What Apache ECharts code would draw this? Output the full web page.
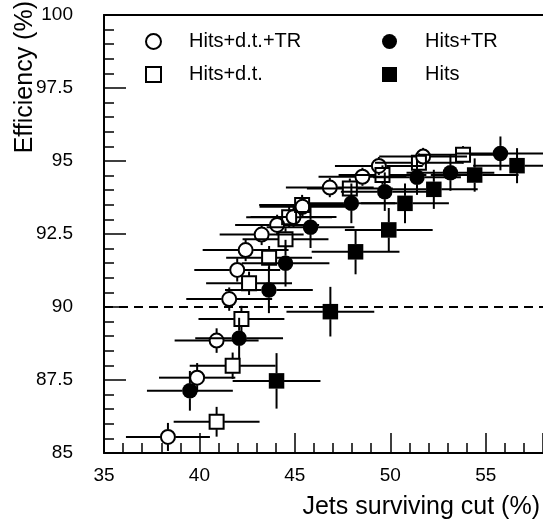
<!DOCTYPE html>
<html><head><meta charset="utf-8">
<script src="https://cdn.jsdelivr.net/npm/echarts@6/dist/echarts.min.js"></script>
<style>html,body{margin:0;padding:0;background:#fff}#c{width:543px;height:525px}</style>
</head><body><div id="c"></div>
<script>
// ---- data ----
const seriesNames = ['Hits+d.t.+TR', 'Hits+d.t.', 'Hits+TR', 'Hits'];
const xTickLabels = [35, 40, 45, 50, 55];
const yTickLabels = [85, 87.5, 90, 92.5, 95, 97.5, 100];
const referenceLine = 90;

// Hits+d.t.+TR (open circles)
const hdtTR_x  = [38.35, 39.88, 40.9, 41.56, 41.98, 42.42, 43.26, 44.07, 44.93, 45.4, 46.83, 48.54, 49.4, 51.72];
const hdtTR_y  = [85.55, 87.58, 88.85, 90.27, 91.27, 91.95, 92.48, 92.81, 93.08, 93.43, 94.09, 94.46, 94.83, 95.15];
const hdtTR_ex = [2.2, 2.0, 2.2, 2.25, 2.25, 2.25, 2.2, 2.2, 2.25, 2.25, 2.3, 2.3, 2.3, 2.3];
const hdtTR_ey = [0.48, 0.5, 0.42, 0.4, 0.4, 0.38, 0.36, 0.35, 0.34, 0.34, 0.33, 0.31, 0.31, 0.3];

// Hits+d.t. (open squares)
const hdt_x  = [40.9, 41.74, 42.2, 42.6, 43.65, 44.51, 44.7, 45.38, 47.88, 49.59, 51.5, 53.81];
const hdt_y  = [86.07, 87.99, 89.59, 90.81, 91.69, 92.32, 93.07, 93.49, 94.06, 94.52, 94.94, 95.21];
const hdt_ex = [2.25, 2.25, 2.25, 2.25, 2.25, 2.25, 2.25, 2.25, 2.25, 2.3, 2.3, 2.3];
const hdt_ey = [0.51, 0.45, 0.45, 0.4, 0.4, 0.38, 0.36, 0.35, 0.34, 0.33, 0.32, 0.3];

// Hits+TR (filled circles)
const hTR_x  = [39.5, 42.08, 43.64, 44.51, 45.82, 47.96, 49.71, 51.4, 53.15, 55.77];
const hTR_y  = [87.13, 88.93, 90.58, 91.5, 92.73, 93.55, 93.95, 94.44, 94.6, 95.26];
const hTR_ex = [2.25, 2.3, 2.3, 2.3, 2.3, 2.3, 2.3, 2.3, 2.3, 2.3];
const hTR_ey = [0.68, 0.7, 0.79, 0.8, 0.71, 0.68, 0.66, 0.6, 0.62, 0.58];

// Hits (filled squares)
const h_x  = [44.04, 46.86, 48.18, 49.92, 50.77, 52.28, 54.42, 56.64];
const h_y  = [87.47, 89.84, 91.89, 92.64, 93.55, 94.03, 94.52, 94.84];
const h_ex = [2.3, 2.3, 2.3, 2.3, 2.3, 2.3, 2.3, 2.3];
const h_ey = [0.95, 0.85, 0.77, 0.75, 0.68, 0.67, 0.57, 0.6];

// ---- build ----
const FONT = 'Liberation Sans, Arial, Helvetica, sans-serif';
function rows(xs, ys, exs, eys) { return xs.map((x, i) => [x, ys[i], exs[i], eys[i]]); }

function errRender(gap) {
  return function (params, api) {
    const x = api.value(0), y = api.value(1), ex = api.value(2), ey = api.value(3);
    const c = api.coord([x, y]);
    const l = api.coord([x - ex, y]), r = api.coord([x + ex, y]);
    const t = api.coord([x, y + ey]), b = api.coord([x, y - ey]);
    const st = { stroke: '#000', lineWidth: 2, fill: null };
    const ch = [];
    if (c[0] - l[0] > gap) ch.push({ type: 'line', shape: { x1: l[0], y1: c[1], x2: c[0] - gap, y2: c[1] }, style: st });
    if (r[0] - c[0] > gap) ch.push({ type: 'line', shape: { x1: c[0] + gap, y1: c[1], x2: r[0], y2: c[1] }, style: st });
    if (c[1] - t[1] > gap) ch.push({ type: 'line', shape: { x1: c[0], y1: t[1], x2: c[0], y2: c[1] - gap }, style: st });
    if (b[1] - c[1] > gap) ch.push({ type: 'line', shape: { x1: c[0], y1: c[1] + gap, x2: c[0], y2: b[1] }, style: st });
    return { type: 'group', children: ch };
  };
}

const defs = [
  { name: seriesNames[0], d: rows(hdtTR_x, hdtTR_y, hdtTR_ex, hdtTR_ey), symbol: 'circle', open: true },
  { name: seriesNames[1], d: rows(hdt_x, hdt_y, hdt_ex, hdt_ey), symbol: 'rect', open: true },
  { name: seriesNames[2], d: rows(hTR_x, hTR_y, hTR_ex, hTR_ey), symbol: 'circle', open: false },
  { name: seriesNames[3], d: rows(h_x, h_y, h_ex, h_ey), symbol: 'rect', open: false }
];

const series = [];
defs.forEach((s, k) => {
  series.push({
    type: 'custom', name: s.name + ' err', renderItem: errRender(7.5),
    data: s.d, encode: { x: 0, y: 1 }, clip: true, silent: true, z: 2 + k * 2
  });
  const sc = {
    type: 'scatter', name: s.name, data: s.d.map(p => [p[0], p[1]]),
    symbol: s.symbol, symbolSize: s.open ? 14 : 15.5, silent: true, z: 3 + k * 2,
    itemStyle: s.open ? { color: 'rgba(255,255,255,0)', borderColor: '#000', borderWidth: 2, opacity: 1 }
                      : { color: '#000', borderWidth: 0, opacity: 1 }
  };
  if (k === 0) {
    sc.markLine = {
      silent: true, symbol: ['none', 'none'], label: { show: false },
      lineStyle: { color: '#000', type: [9, 6], width: 2, opacity: 1 },
      data: [{ yAxis: referenceLine }]
    };
  }
  series.push(sc);
});

const legendPos = [[145, 31.5], [145, 64.5], [382, 31.5], [382, 64.5]];
const legends = seriesNames.map((n, i) => ({
  data: [n], left: legendPos[i][0], top: legendPos[i][1], padding: 0,
  itemWidth: 15, itemHeight: 15, selectedMode: false,
  textStyle: { fontFamily: FONT, fontSize: 20, color: '#000', padding: [0, 0, 0, 23] }
}));

const chart = echarts.init(document.getElementById('c'), null, { renderer: 'canvas' });
chart.setOption({
  animation: false,
  backgroundColor: '#fff',
  grid: { left: 104, right: 0, top: 15, bottom: 72, containLabel: false },
  legend: legends,
  xAxis: [{
    type: 'value', min: 35, max: 58, interval: 5, position: 'bottom',
    axisLine: { show: true, onZero: false, lineStyle: { color: '#000', width: 2 } },
    axisTick: { show: true, inside: true, length: 20, lineStyle: { color: '#000', width: 1.5 } },
    minorTick: { show: true, splitNumber: 5, length: 10, lineStyle: { color: '#000', width: 1.5 } },
    splitLine: { show: false },
    axisLabel: {
      color: '#000', fontFamily: FONT, fontSize: 19, margin: 13, showMaxLabel: false,
      formatter: v => (xTickLabels.indexOf(v) >= 0 ? String(v) : '')
    }
  }, {
    type: 'value', min: 35, max: 58, position: 'top',
    axisLine: { show: true, onZero: false, lineStyle: { color: '#000', width: 2 } },
    axisTick: { show: false }, axisLabel: { show: false }, splitLine: { show: false }
  }],
  yAxis: {
    type: 'value', min: 85, max: 100, interval: 2.5,
    axisLine: { show: true, onZero: false, lineStyle: { color: '#000', width: 2 } },
    axisTick: { show: true, inside: true, length: 22, lineStyle: { color: '#000', width: 1.5 } },
    minorTick: { show: true, splitNumber: 5, length: 10, lineStyle: { color: '#000', width: 1.5 } },
    splitLine: { show: false },
    axisLabel: {
      color: '#000', fontFamily: FONT, fontSize: 19, margin: 31, padding: [5, 0, 0, 0],
      formatter: v => (yTickLabels.indexOf(v) >= 0 ? String(v) : '')
    }
  },
  graphic: [
    { type: 'text', x: 540, y: 507, silent: true,
      style: { text: 'Jets surviving cut (%)', font: '25px ' + FONT, fill: '#000', textAlign: 'right', textVerticalAlign: 'middle' } },
    { type: 'text', x: 25, y: 1, rotation: Math.PI / 2, silent: true,
      style: { text: 'Efficiency (%)', font: '25px ' + FONT, fill: '#000', textAlign: 'right', textVerticalAlign: 'middle' } }
  ],
  series: series
});
</script>
</body></html>
